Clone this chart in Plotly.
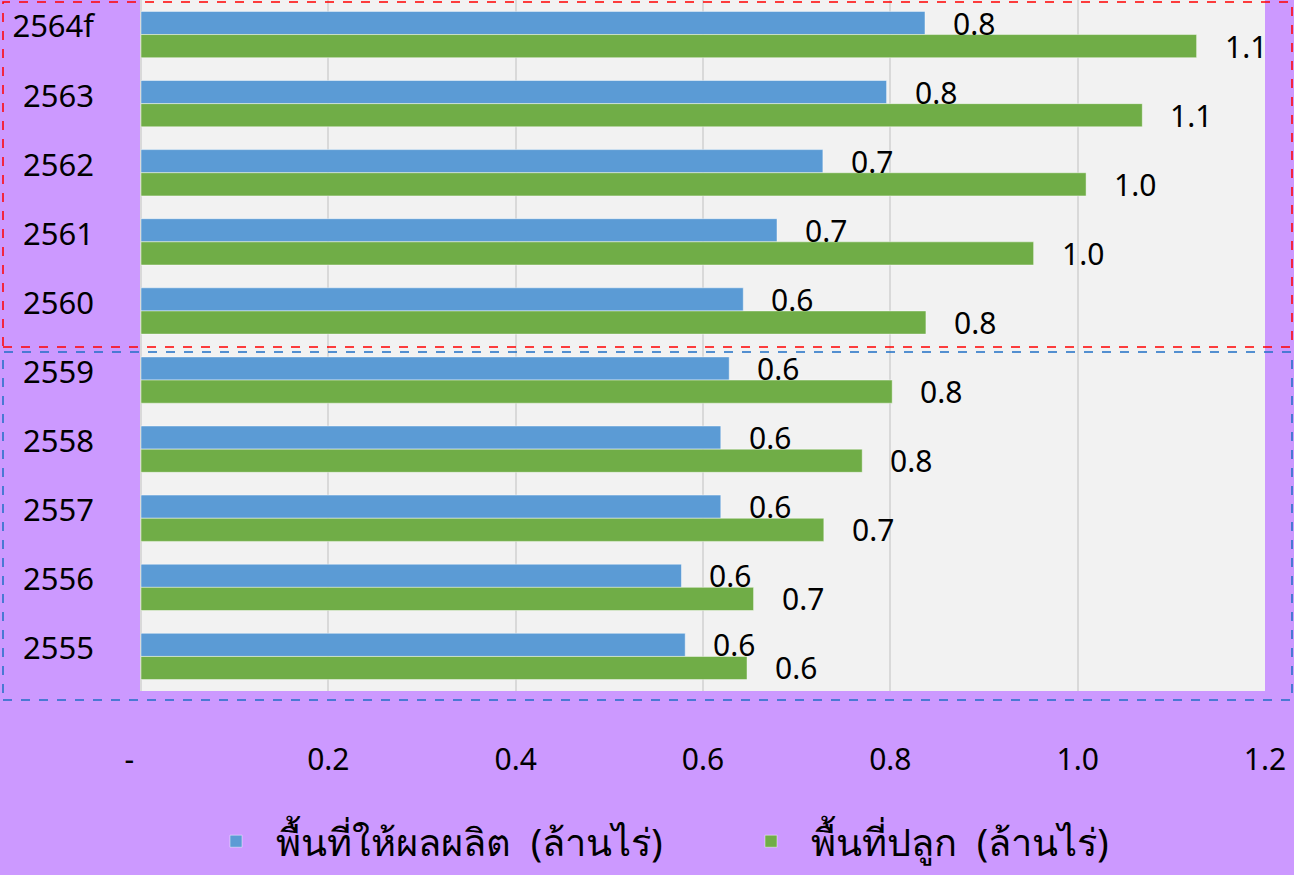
import plotly.graph_objects as go

years = ["2564f", "2563", "2562", "2561", "2560", "2559", "2558", "2557", "2556", "2555"]
harvested = [0.837, 0.796, 0.728, 0.679, 0.643, 0.628, 0.619, 0.619, 0.577, 0.581]
planted = [1.127, 1.069, 1.009, 0.953, 0.838, 0.802, 0.770, 0.729, 0.654, 0.647]
series_names = ["พื้นที่ให้ผลผลิต  (ล้านไร่)", "พื้นที่ปลูก  (ล้านไร่)"]
tick_vals = [0, 0.2, 0.4, 0.6, 0.8, 1.0, 1.2]
tick_text = ["-\u00a0\u00a0\u00a0", "0.2", "0.4", "0.6", "0.8", "1.0", "1.2"]

BLUE = "#5B9BD5"
GREEN = "#70AD47"
PURPLE = "#CC99FF"
FONT = "Noto Sans, Open Sans, DejaVu Sans, sans-serif"

fig = go.Figure()
for name, vals, col in [(series_names[0], harvested, BLUE), (series_names[1], planted, GREEN)]:
    fig.add_trace(go.Bar(
        y=years, x=vals, name=name, orientation="h",
        marker=dict(color=col, line=dict(color="rgba(255,255,255,0.45)", width=1)),
    ))

annotations = []
for vals, ysh in [(harvested, 11.5), (planted, -11.5)]:
    for idx, v in enumerate(vals):
        annotations.append(dict(
            x=v, y=idx, xref="x", yref="y", text=f"{v:.1f}", showarrow=False,
            xanchor="left", yanchor="middle", xshift=26, yshift=ysh,
            font=dict(size=30, color="black", family=FONT),
        ))

L, R, T, B = 141, 29, 0, 184
W, H = 1294, 875
pw, ph = W - L - R, H - T - B

def px(x):
    return (x - L) / pw

def py(y):
    return (H - B - y) / ph

shapes = [
    dict(type="rect", xref="paper", yref="paper", x0=px(3), x1=px(1292), y0=py(347), y1=py(2),
         line=dict(color="#FF0000", width=1.5, dash="dash"), fillcolor="rgba(0,0,0,0)", layer="above"),
    dict(type="rect", xref="paper", yref="paper", x0=px(3), x1=px(1292), y0=py(700), y1=py(352),
         line=dict(color="#1F6FC5", width=1.5, dash="dash"), fillcolor="rgba(0,0,0,0)", layer="above"),
]

fig.update_layout(
    width=W, height=H,
    margin=dict(l=L, r=R, t=T, b=B, pad=0),
    paper_bgcolor=PURPLE, plot_bgcolor="#F2F2F2",
    barmode="group", bargap=0.33, bargroupgap=0,
    font=dict(family=FONT, size=30, color="black"),
    annotations=annotations, shapes=shapes,
    showlegend=True,
    legend=dict(orientation="h", x=px(731), xanchor="center", y=py(873), yanchor="bottom",
                font=dict(size=38, color="black", family=FONT), bgcolor="rgba(0,0,0,0)",
                traceorder="normal", itemwidth=70, entrywidth=450),
    xaxis=dict(range=[0, 1.2], tickvals=tick_vals, ticktext=tick_text, showgrid=True,
               gridcolor="#D9D9D9", gridwidth=1.5, zeroline=True, zerolinecolor="#D9D9D9",
               zerolinewidth=2, ticks="", ticklabelstandoff=48, tickfont=dict(size=30),
               showline=False, fixedrange=True),
    yaxis=dict(type="category", categoryorder="array", categoryarray=years, autorange="reversed",
               ticks="", ticklabelstandoff=46, tickfont=dict(size=31), showgrid=False,
               showline=False, ticklabelshift=8),
)

fig.write_html("out.html", config={"displayModeBar": False},
               post_script="document.body.style.margin='0';document.body.style.background='#CC99FF';")
